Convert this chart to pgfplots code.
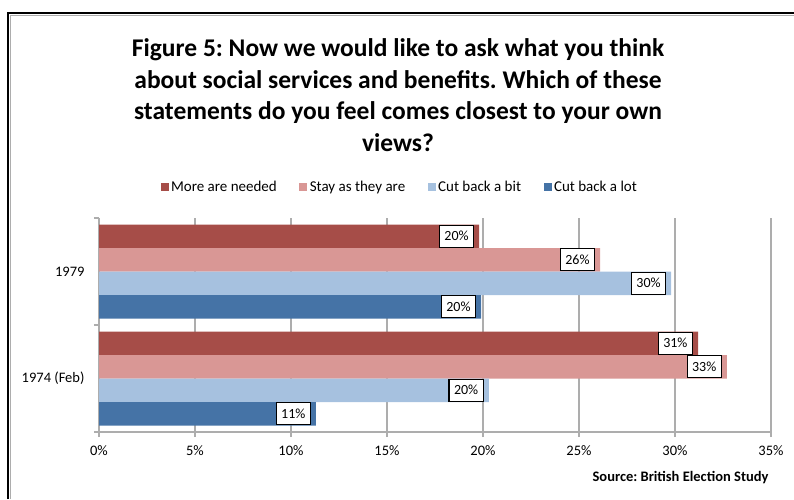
\documentclass[border=0pt]{standalone}
\usepackage{pgfplots}
\pgfplotsset{compat=1.18}
\usepackage{fontspec}
\setmainfont{Carlito}
\frenchspacing
\definecolor{cRed}{HTML}{A64D48}
\definecolor{cPink}{HTML}{D99795}
\definecolor{cLBlue}{HTML}{A6C1DF}
\definecolor{cBlue}{HTML}{4573A6}
\definecolor{cGrid}{HTML}{ADADAD}
\begin{document}
\begin{tikzpicture}[x=1pt,y=1pt]
\useasboundingbox (0,0) rectangle (794,499);
% frame
\draw[line width=2pt,black] (8,0) -- (8,486) -- (794,486);
\draw[line width=1pt,cGrid] (10.5,0) -- (10.5,483.5) -- (794,483.5);
% title
\node[align=center, font=\fontsize{25.5}{31.5}\selectfont\bfseries] at (398,404)
 {Figure 5: Now we would like to ask what you think\\
  about social services and benefits. Which of these\\
  statements do you feel comes closest to your own\\
  views?};
\begin{axis}[
  at={(99pt,67pt)}, anchor=south west,
  scale only axis, width=672pt, height=214pt,
  xmin=0, xmax=35, ymin=-0.5, ymax=1.5,
  xbar, bar width=23.5pt,
  /pgf/number format/assume math mode=true,
  xtick={0,5,...,35},
  xticklabel={\pgfmathprintnumber{\tick}\%},
  xticklabel style={font=\fontsize{14.5}{16}\selectfont, yshift=-5pt},
  ytick={0,1},
  yticklabels={1974 (Feb),1979},
  yticklabel style={font=\fontsize{14.5}{16}\selectfont, xshift=-6pt},
  minor ytick={-0.5,0.5,1.5},
  tick align=outside,
  major tick length=5pt, minor tick length=5pt,
  y tick style={draw=none},
  minor y tick style={draw=cGrid, line width=1.2pt},
  x tick style={draw=cGrid, line width=1.2pt},
  axis x line*=bottom, axis y line*=left,
  axis line style={draw=cGrid, line width=1.2pt, -},
  xmajorgrids, grid style={draw=cGrid, line width=1.2pt},
  point meta=explicit symbolic,
  nodes near coords,
  every node near coord/.append style={anchor=east, xshift=-5pt, draw=black, line width=1.1pt,
     fill=white, inner xsep=5pt, inner ysep=0pt, minimum height=22pt, text=black,
     font=\fontsize{14}{16}\selectfont},
  legend style={at={(0.5,1)}, anchor=south, xshift=-35pt, yshift=21pt, draw=none,
     legend columns=4, font=\fontsize{15}{17}\selectfont,
     /tikz/every even column/.append style={column sep=20pt},
     nodes={inner xsep=2.5pt}},
  legend image code/.code={\fill[#1] (0pt,-4pt) rectangle (8pt,4pt);},
]
\addplot[draw=none, fill=cRed, bar shift=35.25pt] coordinates {(31.2,0) [31\%] (19.8,1) [20\%]};
\addplot[draw=none, fill=cPink, bar shift=11.75pt] coordinates {(32.7,0) [33\%] (26.1,1) [26\%]};
\addplot[draw=none, fill=cLBlue, bar shift=-11.75pt] coordinates {(20.3,0) [20\%] (29.8,1) [30\%]};
\addplot[draw=none, fill=cBlue, bar shift=-35.25pt] coordinates {(11.3,0) [11\%] (19.9,1) [20\%]};
\legend{More are needed, Stay as they are, Cut back a bit, Cut back a lot}
\end{axis}
\node[anchor=east, font=\fontsize{14.5}{16}\selectfont\bfseries] at (772,21) {Source: British Election Study};
\end{tikzpicture}
\end{document}
